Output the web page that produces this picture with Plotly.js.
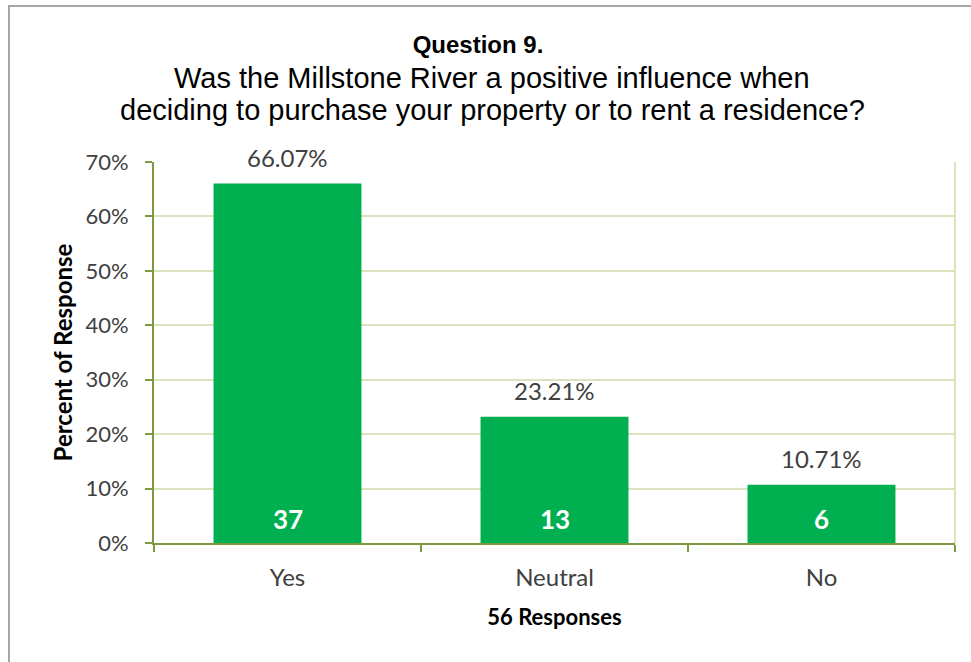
<!DOCTYPE html>
<html>
<head>
<meta charset="utf-8">
<script src="https://cdn.plot.ly/plotly-3.0.1.min.js"></script>
<style>
  html, body { margin: 0; padding: 0; background: #fff; }
  #wrap { position: relative; width: 971px; height: 662px; overflow: hidden; }
  #chart { position: absolute; left: 0; top: 0; width: 971px; height: 662px; }
  #frame { position: absolute; left: 8px; top: 5px; width: 980px; height: 680px;
           border: 2px solid #a6a6a6; pointer-events: none; box-sizing: border-box; }
</style>
</head>
<body>
<div id="wrap">
  <div id="chart"></div>
  <div id="frame"></div>
</div>
<script>
const categories = ["Yes", "Neutral", "No"];
const percents = [66.07, 23.21, 10.71];
const counts = [37, 13, 6];
const percentLabels = ["66.07%", "23.21%", "10.71%"];
const yTickVals = [0, 10, 20, 30, 40, 50, 60, 70];
const yTickText = ["0%", "10%", "20%", "30%", "40%", "50%", "60%", "70%"];
const titleLines = [
  "Question 9.",
  "Was the Millstone River a positive influence when",
  "deciding to purchase your property or to rent a residence?"
];

const gridColor = "#d7e4bd";
const axisColor = "#7f9a3e";
const barColor = "#00b050";
const labelFont = "Lato, Carlito, 'Open Sans', sans-serif";
const titleFont = "'Liberation Sans', Arial, sans-serif";

// plot area: top 162px, height 381px  -> paper y for a pixel row
const plotTop = 162, plotH = 381;
const pyFor = (px) => (plotTop + plotH - px) / plotH;

const annotations = [
  {
    xref: "paper", yref: "paper", x: (492 - 154) / 801, y: pyFor(78),
    xanchor: "center", yanchor: "middle", showarrow: false, text: titleLines[1],
    font: { family: titleFont, size: 29, color: "#000000" }
  },
  {
    xref: "paper", yref: "paper", x: (492 - 154) / 801, y: pyFor(110),
    xanchor: "center", yanchor: "middle", showarrow: false, text: titleLines[2],
    font: { family: titleFont, size: 29, color: "#000000" }
  }
];
for (let i = 0; i < categories.length; i++) {
  annotations.push({
    x: categories[i], y: percents[i], xref: "x", yref: "y",
    text: percentLabels[i], showarrow: false, yanchor: "middle", yshift: 26,
    font: { family: labelFont, size: 24, color: "#404040" }
  });
  annotations.push({
    x: categories[i], y: 0, xref: "x", yref: "y",
    text: "<b>" + counts[i] + "</b>", showarrow: false, yanchor: "middle", yshift: 24,
    font: { family: labelFont, size: 26, color: "#ffffff" }
  });
}

const trace = {
  type: "bar",
  x: categories,
  y: percents,
  marker: { color: barColor, line: { width: 0 } },
  hoverinfo: "none"
};

const layout = {
  width: 971, height: 662,
  paper_bgcolor: "#ffffff", plot_bgcolor: "#ffffff",
  margin: { l: 154, r: 16, t: 162, b: 119 },
  showlegend: false,
  bargap: 0.446,
  title: {
    text: "<b>" + titleLines[0] + "</b>",
    font: { family: titleFont, size: 24, color: "#000000" },
    x: 478 / 971, xref: "container", xanchor: "center",
    y: 1 - 45 / 662, yref: "container", yanchor: "middle"
  },
  xaxis: {
    type: "category",
    showgrid: false,
    showline: true, linecolor: axisColor, linewidth: 2,
    ticks: "outside", tickson: "boundaries", ticklen: 7, tickcolor: axisColor, tickwidth: 2,
    tickfont: { family: labelFont, size: 24, color: "#404040" },
    ticklabelstandoff: 12,
    title: { text: "<b>56 Responses</b>", font: { family: labelFont, size: 22, color: "#000000" }, standoff: 20 },
    zeroline: false
  },
  yaxis: {
    range: [0, 70],
    tickvals: yTickVals, ticktext: yTickText,
    showgrid: true, gridcolor: gridColor, gridwidth: 2,
    showline: true, linecolor: axisColor, linewidth: 2,
    ticks: "outside", ticklen: 7, tickcolor: axisColor, tickwidth: 2,
    tickfont: { family: labelFont, size: 22, color: "#404040" },
    ticklabelstandoff: 12,
    title: { text: "<b>Percent of Response</b>", font: { family: labelFont, size: 24, color: "#000000" }, standoff: 6 },
    zeroline: false,
    automargin: false
  },
  shapes: [{
    type: "line", xref: "paper", yref: "paper", x0: 1, x1: 1, y0: 0, y1: 1,
    line: { color: gridColor, width: 2 }
  }],
  annotations: annotations
};

Plotly.newPlot("chart", [trace], layout, { displayModeBar: false, staticPlot: true });
</script>
</body>
</html>
